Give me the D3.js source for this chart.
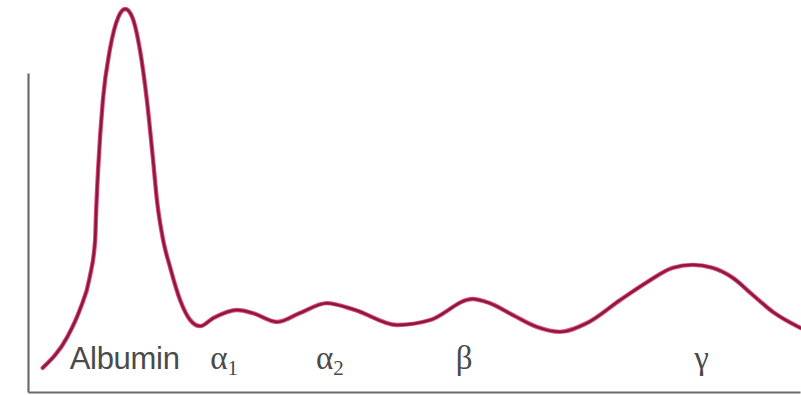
<!DOCTYPE html>
<html><head><meta charset="utf-8">
<script src="https://cdn.jsdelivr.net/npm/d3@7"></script>
<style>body{margin:0;background:#fff}svg{display:block}</style>
</head><body>
<svg id="c" width="801" height="395"></svg>
<script>
// Electrophoresis density trace (relative mobility 0-100, relative density 0-100)
const mobility = [1.9, 5.1, 6.7, 8.0, 8.7, 8.8, 9.1, 9.7, 10.6, 11.7, 12.6, 13.5, 14.5, 15.4, 16.2, 16.7, 17.5, 18.4, 19.7, 21.0, 22.3, 24.0, 27.1, 29.1, 32.3, 35.2, 38.7, 42.4, 47.8, 52.1, 57.6, 59.8, 62.8, 65.9, 68.9, 72.4, 76.7, 80.2, 83.5, 86.1, 88.7, 91.3, 93.9, 96.5, 100.1];
const density  = [6.3, 14.4, 21.4, 30.0, 39.7, 45.7, 58.7, 76.2, 89.3, 97.9, 100.0, 97.9, 89.3, 76.2, 60.6, 50.1, 39.7, 32.6, 24.0, 18.8, 17.2, 19.3, 21.4, 20.6, 18.3, 20.6, 23.2, 21.4, 17.5, 18.8, 24.3, 23.2, 20.1, 17.0, 15.7, 18.0, 24.0, 28.7, 32.4, 33.2, 32.4, 29.8, 25.3, 20.9, 16.7];
const labels      = ["Albumin", "α", "α", "β", "γ"];
const labelSubs   = ["", "1", "2", "", ""];
const labelPos    = [5.4, 23.6, 37.3, 55.4, 86.3];

const svg = d3.select("#c");
const x = d3.scaleLinear().domain([0, 100]).range([28, 800]);
const y = d3.scaleLinear().domain([0, 100]).range([392, 9]);

// axes (no ticks)
const axisColor = "#6b6b6b";
svg.append("g").attr("transform", `translate(${x(0)},0)`)
  .call(d3.axisLeft(d3.scaleLinear().domain([0, 83]).range([392, 73])).tickSize(0).tickValues([]))
  .call(g => g.select(".domain").attr("stroke", axisColor).attr("stroke-width", 2.2));
svg.append("g").attr("transform", `translate(0,${y(0)})`)
  .call(d3.axisBottom(x).tickSize(0).tickValues([]))
  .call(g => g.select(".domain").attr("stroke", axisColor).attr("stroke-width", 2.2));

const pts = mobility.map((m, i) => [m, density[i]]);
const line = d3.line().x(d => x(d[0])).y(d => y(d[1])).curve(d3.curveMonotoneX);

svg.append("path").datum(pts).attr("d", line)
  .attr("fill", "none").attr("stroke", "#e0517c").attr("stroke-width", 4.4).attr("stroke-linecap", "round");
svg.append("path").datum(pts).attr("d", line)
  .attr("fill", "none").attr("stroke", "#8a1840").attr("stroke-width", 2.5).attr("stroke-linecap", "round");

labels.forEach((t, i) => {
  const isGreek = i > 0;
  const txt = svg.append("text")
    .attr("x", x(labelPos[i])).attr("y", 369)
    .attr("fill", "#4a4a4a")
    .attr("font-family", isGreek ? "Liberation Serif, serif" : "Liberation Sans, Arial, sans-serif")
    .attr("font-size", isGreek ? 33 : 31)
    .attr("letter-spacing", isGreek ? 0 : -0.3)
    .text(t);
  if (labelSubs[i]) {
    txt.append("tspan").attr("font-size", 21).attr("dy", 6).text(labelSubs[i]);
  }
});
</script>
</body></html>
